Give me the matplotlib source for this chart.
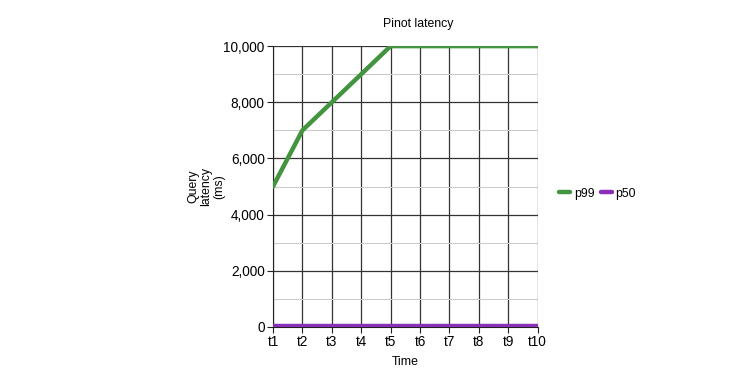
import matplotlib
matplotlib.use('Agg')
import matplotlib.pyplot as plt
from matplotlib.ticker import MultipleLocator, FuncFormatter

plt.rcParams['font.family'] = ['Liberation Sans', 'DejaVu Sans']

# data
times = ['t1', 't2', 't3', 't4', 't5', 't6', 't7', 't8', 't9', 't10']
p99 = [5000, 7000, 8000, 9000, 10000, 10000, 10000, 10000, 10000, 10000]
p50 = [50, 50, 50, 50, 50, 50, 50, 50, 50, 50]

fig = plt.figure(figsize=(7.52, 3.78), dpi=100)
ax = fig.add_axes([0.363, 0.135, 0.352, 0.743])

x = list(range(len(times)))
ax.plot(x, p99, color='#43943f', lw=3.2, label='p99', solid_capstyle='round', zorder=3)
ax.plot(x, p50, color='#8a2fb8', lw=3.2, label='p50', solid_capstyle='round', zorder=3)

ax.set_xlim(0, len(times) - 1)
ax.set_ylim(0, 10000)
ax.set_xticks(x)
ax.set_xticklabels(times)
ax.yaxis.set_major_locator(MultipleLocator(2000))
ax.yaxis.set_minor_locator(MultipleLocator(1000))
ax.yaxis.set_major_formatter(FuncFormatter(lambda v, p: '{:,.0f}'.format(v)))

ax.grid(True, which='major', axis='both', color='#333333', lw=0.9)
ax.grid(True, which='minor', axis='y', color='#cccccc', lw=0.8)
ax.set_axisbelow(True)
for s in ['top', 'right']:
    ax.spines[s].set_visible(False)
ax.spines['left'].set_color('#222222')
ax.spines['bottom'].set_color('#222222')
ax.tick_params(axis='both', which='major', labelsize=9.8, length=4, color='#222222', pad=2)
ax.tick_params(axis='y', which='minor', length=0)

ax.set_title('Pinot latency', fontsize=8.8, pad=14, x=0.547)
ax.set_xlabel('Time', fontsize=8.8, labelpad=5)
ax.set_ylabel('Query\nlatency\n(ms)', fontsize=8.8, linespacing=1.1)
ax.yaxis.set_label_coords(-0.18, 0.5)

ax.legend(loc='center left', bbox_to_anchor=(1.04, 0.475), ncol=2, frameon=False,
          fontsize=8.8, handlelength=0.9, handletextpad=0.3, columnspacing=0.5)

fig.savefig('out.png', dpi=100)
